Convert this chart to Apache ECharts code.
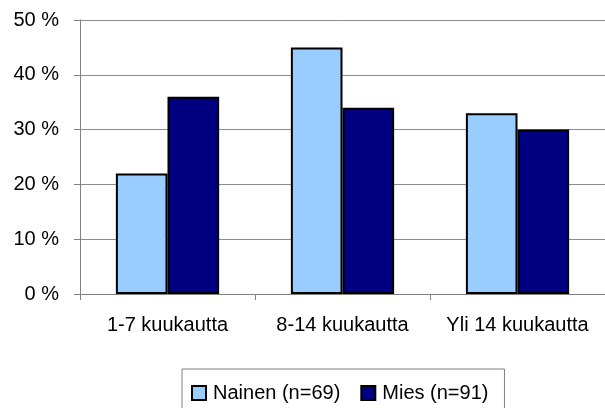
<!DOCTYPE html>
<html>
<head>
<meta charset="utf-8">
<script src="https://cdn.jsdelivr.net/npm/echarts@6/dist/echarts.min.js"></script>
<style>
  html, body { margin: 0; padding: 0; background: #fff; }
  #chart { width: 605px; height: 408px; }
</style>
</head>
<body>
<div id="chart"></div>
<script>
var categories = ['1-7 kuukautta', '8-14 kuukautta', 'Yli 14 kuukautta'];
var nainen = [22, 45, 33];
var mies = [36, 34, 30];
var seriesNames = ['Nainen (n=69)', 'Mies (n=91)'];

function drawChart(){
	var dom = document.getElementById('chart');
	var myChart = echarts.init(dom, null, { renderer: 'canvas' });
	var font = 'Liberation Sans, Arial, sans-serif';

	var option = {
		animation: false,
		backgroundColor: '#ffffff',
		textStyle: { fontFamily: font },
		legend: {
			data: seriesNames,
			icon: 'rect',
			left: 182,
			top: 369,
			padding: [14, 16, 12, 9],
			itemGap: 20,
			itemWidth: 14,
			itemHeight: 14,
			borderColor: '#808080',
			borderWidth: 1,
			textStyle: { fontFamily: font, fontSize: 20, color: '#000', padding: [0, 0, 0, 2] }
		},
		grid: {
			left: 80,
			top: 20,
			width: 533,
			height: 274,
			containLabel: false
		},
		xAxis: {
			type: 'category',
			data: categories,
			axisLine: { lineStyle: { color: '#808080', width: 1 } },
			axisTick: { show: true, alignWithLabel: false, length: 6, lineStyle: { color: '#808080' } },
			axisLabel: { interval: 0, hideOverlap: false, color: '#000', fontSize: 20, fontFamily: font, margin: 21 }
		},
		yAxis: {
			type: 'value',
			min: 0,
			max: 50,
			interval: 10,
			axisLine: { show: true, lineStyle: { color: '#808080', width: 1 } },
			axisTick: { show: true, length: 6, lineStyle: { color: '#808080' } },
			axisLabel: {
				color: '#000', fontSize: 20, fontFamily: font, margin: 21,
				formatter: function(v){ return v + ' %'; }
			},
			splitLine: { lineStyle: { color: '#8c8c8c', width: 1 } }
		},
		series: [
			{
				name: seriesNames[0],
				type: 'bar',
				data: nainen,
				barGap: '0%',
				barCategoryGap: '41%',
				itemStyle: { color: '#99ccff', borderColor: '#000', borderWidth: 2 }
			},
			{
				name: seriesNames[1],
				type: 'bar',
				data: mies,
				itemStyle: { color: '#000080', borderColor: '#000', borderWidth: 2 }
			}
		]
	};
	myChart.setOption(option);
	window.addEventListener('resize', myChart.resize);
}
drawChart()
</script>
</body>
</html>
